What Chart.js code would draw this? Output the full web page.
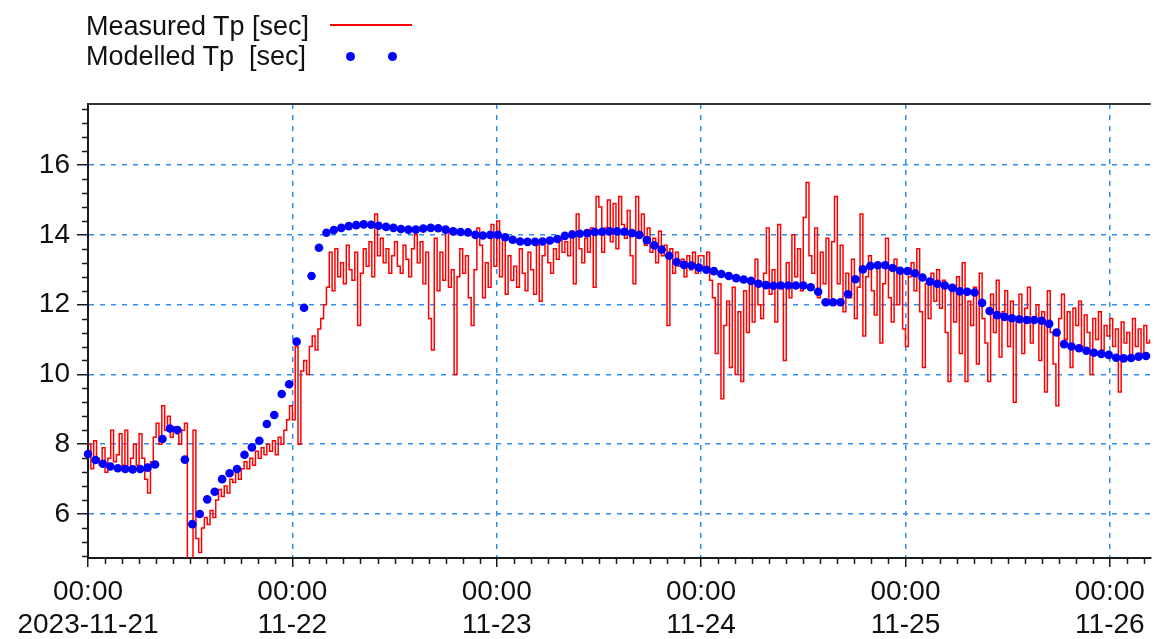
<!DOCTYPE html>
<html>
<head>
<meta charset="utf-8">
<script src="https://cdn.jsdelivr.net/npm/chart.js@4.4.1/dist/chart.umd.min.js"></script>
<style>
  html, body { margin: 0; padding: 0; background: #fff; }
  #wrap { position: relative; width: 1155px; height: 639px; }
  #legend { position: absolute; left: 0; top: 0; font-family: "Liberation Sans", Arial, sans-serif; font-size: 27px; color: #111; }
  .lab { position: absolute; left: 86px; white-space: pre; line-height: 30px; }
  .line { position: absolute; left: 330px; top: 24px; width: 82px; height: 2px; background: #ff0000; }
  .dot { position: absolute; width: 9px; height: 9px; border-radius: 50%; background: #0000ff; }
</style>
</head>
<body>
<div id="wrap">
  <canvas id="tpChart" width="1155" height="639"></canvas>
  <div id="legend">
    <div class="lab" style="top:11px">Measured Tp [sec]</div>
    <div class="line"></div>
    <div class="lab" style="top:41px">Modelled Tp  [sec]</div>
    <div class="dot" style="left:346px; top:52px"></div>
    <div class="dot" style="left:388px; top:52px"></div>
  </div>
</div>
<script>
// hours since 2023-11-21 00:00
const dayTicks = [0, 24, 48, 72, 96, 120];
const dayLabels = ['2023-11-21', '11-22', '11-23', '11-24', '11-25', '11-26'];
const yTicks = [6, 8, 10, 12, 14, 16];
const measuredStepH = 1 / 3;   // measured every 20 min
const modelledStepH = 0.875;   // modelled points as spaced in the picture

// Measured Tp [sec], 20 min values
const measuredTp = [
  // 11-21
  8.0, 7.3, 8.1, 7.6, 7.4, 7.9, 7.2, 7.6, 8.4, 7.5, 7.7, 8.3,
  7.4, 8.4, 7.3, 7.6, 8.0, 7.4, 8.3, 7.6, 7.0, 6.6, 7.5, 8.2,
  8.6, 8.0, 9.1, 8.4, 8.8, 8.2, 8.5, 8.3, 8.0, 8.4, 8.6, 4.5,
  4.6, 8.4, 5.3, 4.9, 5.6, 5.9, 5.7, 6.1, 5.9, 6.4, 6.7, 6.5,
  6.8, 6.6, 7.0, 6.9, 7.2, 7.0, 7.3, 7.5, 7.3, 7.6, 7.4, 7.8,
  7.6, 7.9, 7.7, 8.0, 7.8, 8.1, 7.7, 8.2, 8.0, 8.4, 8.7, 9.1,
  // 11-22
  8.7, 10.8, 8.0, 10.1, 10.4, 10.0, 10.8, 11.1, 10.7, 11.3, 11.6, 12.0,
  12.5, 13.5, 12.4, 13.6, 12.8, 13.2, 12.6, 13.7, 13.0, 12.7, 13.5, 11.4,
  12.9, 13.6, 13.1, 13.8, 12.8, 14.6, 13.4, 13.9, 13.2, 13.6, 12.9, 13.4,
  13.8, 13.1, 12.9, 13.7, 13.3, 12.8, 13.6, 14.0, 13.2, 13.8, 12.6, 13.5,
  11.6, 10.7, 13.9, 12.4, 13.5, 12.7, 14.1, 12.5, 13.0, 10.0, 12.8, 13.6,
  12.9, 13.4, 12.2, 11.4, 13.0, 14.2, 13.7, 12.2, 13.2, 12.5, 14.3, 13.1,
  // 11-23
  14.4, 12.8, 13.9, 12.3, 13.4, 12.7, 13.1, 12.5, 13.6, 12.9, 12.4, 13.5,
  13.0, 12.3, 13.7, 12.1, 13.4, 13.8, 13.2, 12.9, 13.6, 13.3, 13.9, 13.5,
  13.8, 13.4, 14.1, 12.6, 14.6, 13.6, 13.2, 13.9, 13.5, 14.2, 12.5, 15.1,
  14.8, 13.5, 14.2, 15.0, 13.8, 14.9, 13.6, 15.1, 14.3, 13.9, 14.7, 13.4,
  12.6, 15.1, 14.0, 14.6, 13.7, 14.2, 13.5, 13.9, 13.2, 14.1, 13.4, 13.7,
  11.4, 13.6, 12.9, 13.5, 13.1, 13.3, 12.8, 13.4, 13.0, 13.5, 12.9, 13.4,
  // 11-24
  13.4, 13.0, 13.5, 12.7, 12.2, 10.6, 12.6, 9.3, 11.4, 12.1, 10.2, 12.5,
  10.0, 11.8, 9.8, 12.4, 11.2, 12.6, 11.5, 13.3, 12.0, 11.6, 12.9, 14.2,
  12.3, 13.0, 11.5, 14.3, 12.6, 10.4, 13.2, 12.2, 14.0, 12.8, 13.6, 12.4,
  14.5, 15.5, 13.4, 12.9, 14.2, 12.2, 13.5, 12.6, 13.9, 12.1, 13.8, 15.1,
  12.6, 13.7, 11.8, 12.9, 12.2, 13.3, 11.6, 12.5, 14.6, 11.1, 12.8, 13.4,
  12.4, 11.7, 13.2, 10.9, 12.6, 13.9, 12.2, 11.5, 13.3, 12.0, 12.9, 11.3,
  // 11-25
  10.8, 12.8, 13.2, 12.4, 13.6, 11.8, 10.2, 12.6, 11.6, 12.9, 12.1, 13.0,
  11.9, 12.7, 11.2, 9.8, 12.4, 11.5, 12.8, 10.6, 13.2, 9.8, 12.1, 11.4,
  12.5, 10.3, 12.9, 11.6, 10.9, 9.8, 12.3, 11.2, 12.7, 10.5, 11.8, 12.4,
  10.8, 12.1, 9.2, 11.5, 12.3, 10.6, 11.9, 12.5, 10.9, 11.6, 12.0, 10.4,
  11.8, 9.5, 12.4, 11.2, 10.3, 9.1, 11.6, 12.3, 11.0, 11.8, 10.2, 11.9,
  11.4, 12.1, 10.8, 11.7, 11.2, 10.0, 11.6, 11.0, 11.8, 10.7, 11.4, 11.1,
  // 11-26
  11.6, 10.8, 11.3, 9.5, 11.5, 10.9, 11.2, 10.4, 11.6, 10.8, 11.3, 10.6,
  11.4, 10.9, 11.0
];

// Modelled Tp [sec]
const modelledTp = [
  7.72, 7.55, 7.44, 7.36, 7.31, 7.29, 7.28, 7.29, 7.33, 7.42,
  8.15, 8.45, 8.41, 7.56, 5.71, 6.00, 6.42, 6.64, 7.00, 7.17,
  7.29, 7.70, 7.91, 8.10, 8.58, 8.84, 9.44, 9.72, 10.94, 11.91,
  12.82, 13.63, 14.06, 14.14, 14.20, 14.25, 14.28, 14.30, 14.29, 14.26,
  14.23, 14.20, 14.17, 14.15, 14.15, 14.18, 14.20, 14.19, 14.15, 14.10,
  14.08, 14.07, 14.00, 13.98, 14.00, 14.00, 13.93, 13.86, 13.81, 13.80,
  13.80, 13.81, 13.84, 13.88, 13.97, 14.01, 14.03, 14.05, 14.08, 14.09,
  14.10, 14.10, 14.09, 14.05, 14.00, 13.85, 13.70, 13.58, 13.40, 13.22,
  13.14, 13.12, 13.06, 13.00, 12.96, 12.88, 12.82, 12.76, 12.72, 12.68,
  12.60, 12.56, 12.54, 12.55, 12.55, 12.55, 12.55, 12.50, 12.37, 12.07,
  12.07, 12.07, 12.30, 12.73, 13.01, 13.11, 13.13, 13.13, 13.05, 12.97,
  12.96, 12.90, 12.78, 12.66, 12.60, 12.55, 12.48, 12.38, 12.37, 12.35,
  12.05, 11.82, 11.70, 11.65, 11.61, 11.58, 11.56, 11.56, 11.54, 11.45,
  11.20, 10.87, 10.80, 10.75, 10.68, 10.62, 10.59, 10.56, 10.48, 10.46,
  10.47, 10.51, 10.53
];

const measuredPoints = measuredTp.map((v, i) => ({ x: i * measuredStepH, y: v }));
const modelledPoints = modelledTp.map((v, i) => ({ x: i * modelledStepH, y: v }));

const gridBlue = '#2f8ff0';
const axisInk = '#1a1a1a';
const tickFont = { family: '"Liberation Sans", Arial, sans-serif', size: 28 };

// minor tick marks and the top frame line
const framePlugin = {
  id: 'frame',
  afterDraw(chart) {
    const ctx = chart.ctx;
    const area = chart.chartArea;
    const xs = chart.scales.x;
    const ys = chart.scales.y;
    ctx.save();
    ctx.strokeStyle = axisInk;
    ctx.lineWidth = 1.5;
    ctx.beginPath();
    for (let h = 2; h <= xs.max; h += 2) {
      if (h % 24 === 0) continue;
      const px = Math.round(xs.getPixelForValue(h)) + 0.5;
      ctx.moveTo(px, area.bottom);
      ctx.lineTo(px, area.bottom + 6);
    }
    for (let k = 12; k * 0.4 <= ys.max; k++) {
      if (k % 5 === 0) continue;
      const py = Math.round(ys.getPixelForValue(k * 0.4)) + 0.5;
      ctx.moveTo(area.left - 6, py);
      ctx.lineTo(area.left, py);
    }
    ctx.stroke();
    ctx.lineWidth = 2;
    ctx.strokeStyle = '#333';
    ctx.beginPath();
    ctx.moveTo(area.left, area.top);
    ctx.lineTo(area.right, area.top);
    ctx.stroke();
    ctx.restore();
  }
};

new Chart(document.getElementById('tpChart').getContext('2d'), {
  type: 'line',
  data: {
    datasets: [
      {
        label: 'Modelled Tp  [sec]',
        data: modelledPoints,
        showLine: false,
        pointRadius: 4.3,
        pointBackgroundColor: '#0000ff',
        pointBorderWidth: 0,
        clip: 6
      },
      {
        label: 'Measured Tp [sec]',
        data: measuredPoints,
        borderColor: '#ff0000',
        borderWidth: 1.5,
        pointRadius: 0,
        stepped: true,
        fill: false
      }
    ]
  },
  options: {
    responsive: false,
    animation: false,
    devicePixelRatio: 1,
    layout: { padding: { top: 104, left: 0, right: 0, bottom: 0 } },
    plugins: { legend: { display: false }, tooltip: { enabled: false } },
    scales: {
      x: {
        type: 'linear',
        min: 0,
        max: 124.8,
        afterFit(scale) { scale.height = 81; },
        afterBuildTicks(scale) { scale.ticks = dayTicks.map(v => ({ value: v })); },
        ticks: {
          autoSkip: false,
          maxRotation: 0,
          padding: 8,
          color: '#111',
          font: tickFont,
          callback: (v) => ['00:00', dayLabels[dayTicks.indexOf(v)]]
        },
        grid: {
          color: (c) => (c.tick && c.tick.value === 0) ? 'rgba(0,0,0,0)' : gridBlue,
          lineWidth: 1.5,
          tickColor: axisInk,
          tickLength: 9,
          tickWidth: 1.5,
          tickBorderDash: []
        },
        border: { display: true, color: axisInk, width: 2, dash: [5, 6] }
      },
      y: {
        min: 4.74,
        max: 17.75,
        afterFit(scale) { scale.width = 88; },
        afterBuildTicks(scale) { scale.ticks = yTicks.map(v => ({ value: v })); },
        ticks: {
          padding: 7,
          color: '#111',
          font: tickFont,
          callback: (v) => String(v)
        },
        grid: {
          color: gridBlue,
          lineWidth: 1.5,
          tickColor: axisInk,
          tickLength: 11,
          tickWidth: 1.5,
          tickBorderDash: []
        },
        border: { display: true, color: axisInk, width: 2, dash: [5, 6] }
      }
    }
  },
  plugins: [framePlugin]
});
</script>
</body>
</html>
